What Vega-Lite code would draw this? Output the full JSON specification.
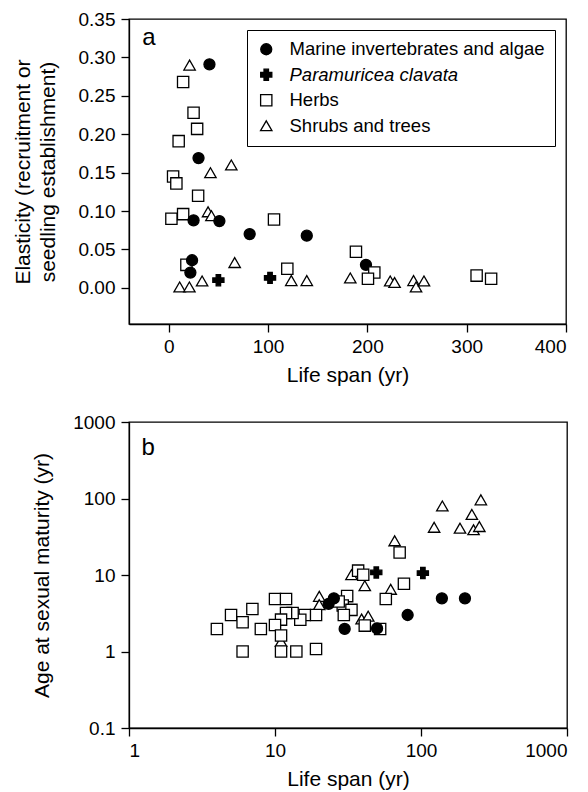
{
  "$schema": "https://vega.github.io/schema/vega-lite/v6.json",
  "padding": {"top": 9, "left": 11, "right": 5, "bottom": 5},
  "spacing": 26,
  "config": {
    "font": "Liberation Sans",
    "view": {"stroke": "black", "strokeWidth": 1.3},
    "axis": {"grid": false, "domainColor": "black", "domainWidth": 1.3, "tickColor": "black", "tickWidth": 1.3, "tickSize": 8, "labelColor": "black", "titleColor": "black", "labelFontSize": 19, "titleFontSize": 21, "titleFontWeight": "normal", "labelPadding": 5, "titlePadding": 8},
    "axisY": {"labelPadding": 6, "titlePadding": 20}
  },
  "datasets": {
    "elasticity": [
      {"series": "Shrubs and trees", "life": 21, "elasticity": 0.290},
      {"series": "Marine invertebrates and algae", "life": 41, "elasticity": 0.291},
      {"series": "Herbs", "life": 14.5, "elasticity": 0.268},
      {"series": "Herbs", "life": 25, "elasticity": 0.228},
      {"series": "Herbs", "life": 28.6, "elasticity": 0.207},
      {"series": "Herbs", "life": 10, "elasticity": 0.191},
      {"series": "Marine invertebrates and algae", "life": 30, "elasticity": 0.169},
      {"series": "Shrubs and trees", "life": 63, "elasticity": 0.160},
      {"series": "Shrubs and trees", "life": 42, "elasticity": 0.150},
      {"series": "Herbs", "life": 4.4, "elasticity": 0.145},
      {"series": "Herbs", "life": 7.7, "elasticity": 0.136},
      {"series": "Herbs", "life": 29.6, "elasticity": 0.120},
      {"series": "Herbs", "life": 2.7, "elasticity": 0.090},
      {"series": "Herbs", "life": 14.5, "elasticity": 0.096},
      {"series": "Marine invertebrates and algae", "life": 25, "elasticity": 0.088},
      {"series": "Shrubs and trees", "life": 39.6, "elasticity": 0.099},
      {"series": "Shrubs and trees", "life": 43, "elasticity": 0.094},
      {"series": "Marine invertebrates and algae", "life": 51, "elasticity": 0.087},
      {"series": "Marine invertebrates and algae", "life": 81.5, "elasticity": 0.070},
      {"series": "Herbs", "life": 106, "elasticity": 0.089},
      {"series": "Marine invertebrates and algae", "life": 139, "elasticity": 0.068},
      {"series": "Herbs", "life": 188.5, "elasticity": 0.047},
      {"series": "Marine invertebrates and algae", "life": 198.6, "elasticity": 0.030},
      {"series": "Herbs", "life": 207, "elasticity": 0.020},
      {"series": "Herbs", "life": 200.6, "elasticity": 0.012},
      {"series": "Shrubs and trees", "life": 182.8, "elasticity": 0.013},
      {"series": "Shrubs and trees", "life": 223, "elasticity": 0.009},
      {"series": "Shrubs and trees", "life": 227.4, "elasticity": 0.007},
      {"series": "Shrubs and trees", "life": 246.5, "elasticity": 0.0095},
      {"series": "Shrubs and trees", "life": 249, "elasticity": 0.0013},
      {"series": "Shrubs and trees", "life": 257, "elasticity": 0.009},
      {"series": "Herbs", "life": 310, "elasticity": 0.016},
      {"series": "Herbs", "life": 324.6, "elasticity": 0.012},
      {"series": "Herbs", "life": 119.4, "elasticity": 0.025},
      {"series": "Shrubs and trees", "life": 123.4, "elasticity": 0.0095},
      {"series": "Shrubs and trees", "life": 139, "elasticity": 0.0095},
      {"series": "Paramuricea clavata", "life": 102, "elasticity": 0.013},
      {"series": "Paramuricea clavata", "life": 50, "elasticity": 0.010},
      {"series": "Shrubs and trees", "life": 66.4, "elasticity": 0.033},
      {"series": "Shrubs and trees", "life": 33.6, "elasticity": 0.009},
      {"series": "Shrubs and trees", "life": 11, "elasticity": 0.0013},
      {"series": "Shrubs and trees", "life": 20.8, "elasticity": 0.0013},
      {"series": "Herbs", "life": 17.8, "elasticity": 0.030},
      {"series": "Marine invertebrates and algae", "life": 23.5, "elasticity": 0.036},
      {"series": "Marine invertebrates and algae", "life": 21.8, "elasticity": 0.020}
    ],
    "maturity": [
      {"series": "Shrubs and trees", "life": 140, "age": 80},
      {"series": "Shrubs and trees", "life": 257, "age": 96},
      {"series": "Shrubs and trees", "life": 223, "age": 62},
      {"series": "Shrubs and trees", "life": 123, "age": 42},
      {"series": "Shrubs and trees", "life": 185, "age": 41},
      {"series": "Shrubs and trees", "life": 229, "age": 39},
      {"series": "Shrubs and trees", "life": 251, "age": 43},
      {"series": "Shrubs and trees", "life": 66, "age": 28},
      {"series": "Shrubs and trees", "life": 62, "age": 6.5},
      {"series": "Shrubs and trees", "life": 33.4, "age": 10.1},
      {"series": "Shrubs and trees", "life": 41.2, "age": 7.25},
      {"series": "Shrubs and trees", "life": 39.2, "age": 2.66},
      {"series": "Shrubs and trees", "life": 43.5, "age": 2.9},
      {"series": "Shrubs and trees", "life": 20.1, "age": 5.26},
      {"series": "Shrubs and trees", "life": 20.1, "age": 4.1},
      {"series": "Shrubs and trees", "life": 11, "age": 1.35},
      {"series": "Herbs", "life": 71.4, "age": 19.7},
      {"series": "Herbs", "life": 76.4, "age": 7.7},
      {"series": "Herbs", "life": 57.4, "age": 4.85},
      {"series": "Herbs", "life": 52.5, "age": 1.97},
      {"series": "Herbs", "life": 41.2, "age": 2.18},
      {"series": "Herbs", "life": 37.1, "age": 11.4},
      {"series": "Herbs", "life": 40.2, "age": 10.1},
      {"series": "Herbs", "life": 31.2, "age": 5.3},
      {"series": "Herbs", "life": 29.1, "age": 4.0},
      {"series": "Herbs", "life": 33.4, "age": 3.5},
      {"series": "Herbs", "life": 29.6, "age": 3.0},
      {"series": "Herbs", "life": 27.3, "age": 4.5},
      {"series": "Herbs", "life": 19.1, "age": 3.0},
      {"series": "Herbs", "life": 16, "age": 3.0},
      {"series": "Herbs", "life": 14.9, "age": 2.6},
      {"series": "Herbs", "life": 13.2, "age": 3.19},
      {"series": "Herbs", "life": 11.9, "age": 3.19},
      {"series": "Herbs", "life": 11, "age": 2.61},
      {"series": "Herbs", "life": 10, "age": 2.22},
      {"series": "Herbs", "life": 11, "age": 1.62},
      {"series": "Herbs", "life": 11, "age": 1.0},
      {"series": "Herbs", "life": 6, "age": 1.0},
      {"series": "Herbs", "life": 14, "age": 1.0},
      {"series": "Herbs", "life": 19.1, "age": 1.08},
      {"series": "Herbs", "life": 10, "age": 4.85},
      {"series": "Herbs", "life": 11.9, "age": 4.85},
      {"series": "Herbs", "life": 7, "age": 3.6},
      {"series": "Herbs", "life": 5, "age": 3.0},
      {"series": "Herbs", "life": 6, "age": 2.41},
      {"series": "Herbs", "life": 4, "age": 1.97},
      {"series": "Herbs", "life": 8, "age": 1.97},
      {"series": "Marine invertebrates and algae", "life": 23.3, "age": 4.2},
      {"series": "Marine invertebrates and algae", "life": 25.3, "age": 4.95},
      {"series": "Marine invertebrates and algae", "life": 30, "age": 1.97},
      {"series": "Marine invertebrates and algae", "life": 50, "age": 2.0},
      {"series": "Marine invertebrates and algae", "life": 81, "age": 3.0},
      {"series": "Marine invertebrates and algae", "life": 139, "age": 4.95},
      {"series": "Marine invertebrates and algae", "life": 200, "age": 4.95},
      {"series": "Paramuricea clavata", "life": 49.4, "age": 10.8},
      {"series": "Paramuricea clavata", "life": 103, "age": 10.6}
    ]
  },
  "resolve": {"scale": {"shape": "independent", "fill": "independent", "size": "independent", "stroke": "independent"}},
  "vconcat": [
    {
      "width": 437,
      "height": 305,
      "layer": [
        {
          "data": {"name": "elasticity"},
          "mark": {"type": "point", "strokeWidth": 1.3, "opacity": 1},
          "encoding": {
            "x": {"field": "life", "type": "quantitative", "scale": {"domain": [-40, 400], "nice": false, "zero": false}, "axis": {"values": [0, 100, 200, 300, 400], "title": "Life span (yr)"}},
            "y": {"field": "elasticity", "type": "quantitative", "scale": {"domain": [-0.047, 0.35], "nice": false, "zero": false}, "axis": {"values": [0, 0.05, 0.1, 0.15, 0.2, 0.25, 0.3, 0.35], "format": ".2f", "title": ["Elasticity (recruitment or", "seedling establishment)"], "titleLineHeight": 25}},
            "shape": {"field": "series", "type": "nominal", "scale": {"domain": ["Marine invertebrates and algae", "Paramuricea clavata", "Herbs", "Shrubs and trees"], "range": ["circle", "cross", "square", "triangle-up"]}, "legend": {"title": null}},
            "fill": {"field": "series", "type": "nominal", "scale": {"domain": ["Marine invertebrates and algae", "Paramuricea clavata", "Herbs", "Shrubs and trees"], "range": ["black", "black", "white", "white"]}, "legend": {"title": null}},
            "stroke": {"field": "series", "type": "nominal", "scale": {"domain": ["Marine invertebrates and algae", "Paramuricea clavata", "Herbs", "Shrubs and trees"], "range": ["black", "black", "black", "black"]}, "legend": {"title": null}},
            "size": {"field": "series", "type": "nominal", "scale": {"domain": ["Marine invertebrates and algae", "Paramuricea clavata", "Herbs", "Shrubs and trees"], "range": [121, 130, 81, 100]}, "legend": {"title": null, "orient": "top-right", "offset": 11, "padding": 10, "strokeColor": "black", "fillColor": "white", "labelFontSize": 18.5, "labelColor": "black", "labelLimit": 0, "rowPadding": 6.5, "labelOffset": 14, "symbolStrokeColor": "black", "symbolStrokeWidth": 1.3, "labelFontStyle": {"expr": "datum.label === 'Paramuricea clavata' ? 'italic' : 'normal'"}}}
          }
        },
        {
          "data": {"values": [{}]},
          "mark": {"type": "text", "fontSize": 24, "align": "center", "baseline": "alphabetic", "color": "black"},
          "encoding": {"x": {"datum": -20}, "y": {"datum": 0.316}, "text": {"value": "a"}}
        }
      ]
    },
    {
      "width": 438,
      "height": 306,
      "layer": [
        {
          "data": {"name": "maturity"},
          "mark": {"type": "point", "strokeWidth": 1.3, "opacity": 1},
          "encoding": {
            "x": {"field": "life", "type": "quantitative", "scale": {"type": "log", "domain": [1, 1000], "nice": false}, "axis": {"values": [1, 10, 100, 1000], "format": "~g", "title": "Life span (yr)"}},
            "y": {"field": "age", "type": "quantitative", "scale": {"type": "log", "domain": [0.1, 1000], "nice": false}, "axis": {"values": [0.1, 1, 10, 100, 1000], "format": "~g", "title": "Age at sexual maturity (yr)"}},
            "shape": {"field": "series", "type": "nominal", "scale": {"domain": ["Marine invertebrates and algae", "Paramuricea clavata", "Herbs", "Shrubs and trees"], "range": ["circle", "cross", "square", "triangle-up"]}, "legend": null},
            "fill": {"field": "series", "type": "nominal", "scale": {"domain": ["Marine invertebrates and algae", "Paramuricea clavata", "Herbs", "Shrubs and trees"], "range": ["black", "black", "white", "white"]}, "legend": null},
            "stroke": {"field": "series", "type": "nominal", "scale": {"domain": ["Marine invertebrates and algae", "Paramuricea clavata", "Herbs", "Shrubs and trees"], "range": ["black", "black", "black", "black"]}, "legend": null},
            "size": {"field": "series", "type": "nominal", "scale": {"domain": ["Marine invertebrates and algae", "Paramuricea clavata", "Herbs", "Shrubs and trees"], "range": [121, 130, 81, 100]}, "legend": null}
          }
        },
        {
          "data": {"values": [{}]},
          "mark": {"type": "text", "fontSize": 24, "align": "center", "baseline": "alphabetic", "color": "black"},
          "encoding": {"x": {"datum": 1.354}, "y": {"datum": 373}, "text": {"value": "b"}}
        }
      ]
    }
  ]
}
